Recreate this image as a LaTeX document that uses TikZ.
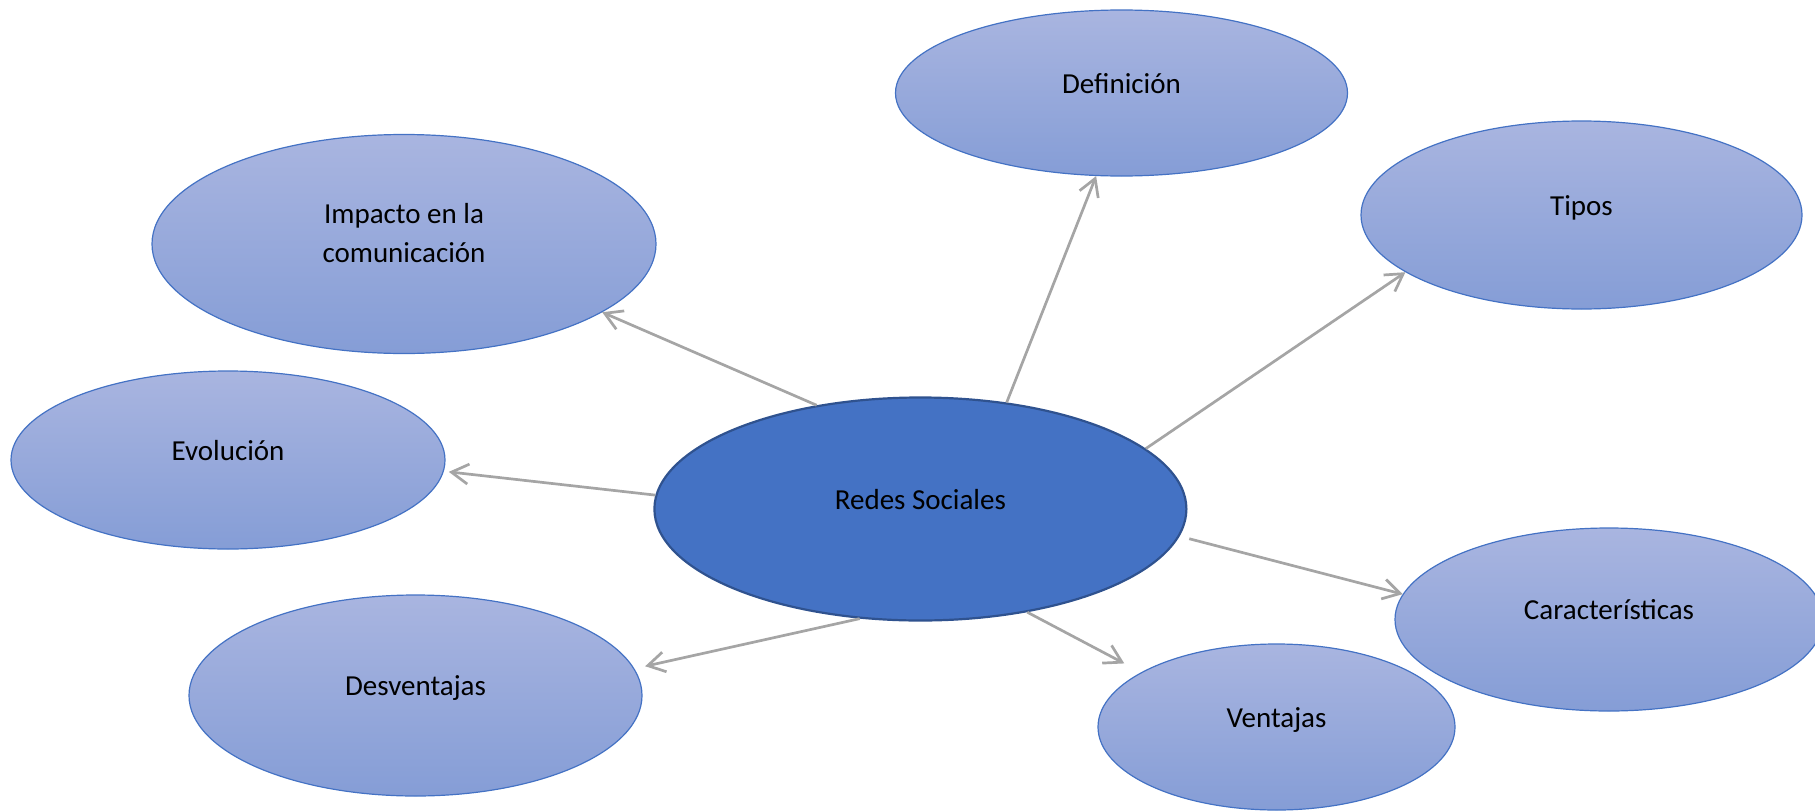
\documentclass[tikz,border=0pt]{standalone}
\usepackage{fontspec}
\setmainfont{Carlito}
\usetikzlibrary{shapes.geometric,arrows.meta}
\definecolor{bubbletop}{RGB}{169,181,224}
\definecolor{bubblebot}{RGB}{133,157,214}
\definecolor{bubbleline}{RGB}{68,114,196}
\definecolor{hubfill}{RGB}{68,114,196}
\definecolor{hubline}{RGB}{47,82,143}
\definecolor{linkgray}{RGB}{165,165,165}
\begin{document}
\begin{tikzpicture}[x=1pt, y=-1pt, >={Straight Barb[length=17pt,width=20pt]},
  dims/.style 2 args={minimum width=#1pt, minimum height=#2pt},
  bubble/.style={ellipse, draw=bubbleline, line width=1.2pt, top color=bubbletop, bottom color=bubblebot,
    inner sep=0pt, font=\fontsize{29}{38.4}\selectfont, text height=21pt, text depth=21pt},
  hub/.style={ellipse, draw=hubline, line width=2.2pt, fill=hubfill,
    inner sep=0pt, font=\fontsize{29}{38.4}\selectfont, text height=21pt, text depth=21pt},
  link/.style={->, draw=linkgray, line width=2.7pt}]
\useasboundingbox (0,0) rectangle (1815,811);

\node[hub, dims={532}{223}] (redes) at (920.4,509) {Redes Sociales};
\node[bubble, dims={504}{219}, align=center, text height=57pt] (impacto) at (404,244) {Impacto en la\\comunicación};
\node[bubble, dims={452}{166}] (definicion) at (1121.5,93) {Definición};
\node[bubble, dims={441}{188}] (tipos) at (1581.5,215) {Tipos};
\node[bubble, dims={434}{178}] (evolucion) at (228,460) {Evolución};
\node[bubble, dims={428}{183}] (caracteristicas) at (1609,619.5) {Características};
\node[bubble, dims={357}{166}] (ventajas) at (1276.5,727) {Ventajas};
\node[bubble, dims={453}{201}] (desventajas) at (415.5,695.5) {Desventajas};

\draw[link] (redes.135.3) -- (impacto.341);
\draw[link] (redes.51.8) -- (definicion.253.7);
\draw[link] (redes.15.2) -- (tipos.198.3);
\draw[link, shorten >=5pt] (redes.177) -- (evolucion.357);
\draw[link, shorten <=10pt] (redes.354.5) -- (caracteristicas.173.2);
\draw[link, shorten >=19pt] (redes.316.9) -- (ventajas.158);
\draw[link, shorten >=11pt] (redes.241.7) -- (desventajas.7.65);
\end{tikzpicture}
\end{document}
